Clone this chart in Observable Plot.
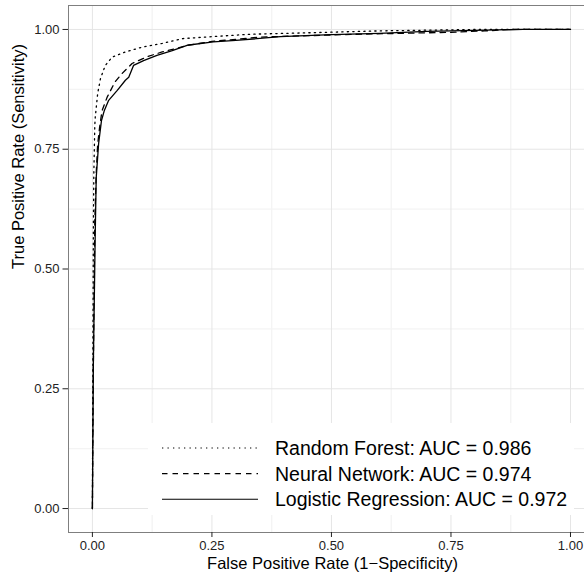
<!DOCTYPE html>
<html><head><meta charset="utf-8">
<script src="https://cdn.jsdelivr.net/npm/d3@7"></script>
<script src="https://cdn.jsdelivr.net/npm/@observablehq/plot@0.6"></script>
<style>
body{margin:0;background:#fff;font-family:"Liberation Sans",Arial,sans-serif;}
#wrap{position:relative;width:584px;height:573px;overflow:hidden;}
#legend{position:absolute;left:148px;top:423px;}
</style></head><body><div id="wrap"><div id="legend"></div></div>
<script>
// ---- data ----
const models = ["Random Forest", "Neural Network", "Logistic Regression"];
const aucs = [0.986, 0.974, 0.972];

const rfFpr = [0, 0.001, 0.002, 0.003, 0.005, 0.006, 0.011, 0.017, 0.027, 0.041, 0.069, 0.104, 0.146, 0.19, 0.25, 0.33, 0.45, 0.6, 0.8, 1];
const rfTpr = [0, 0.30, 0.58, 0.70, 0.80, 0.817, 0.866, 0.898, 0.925, 0.942, 0.953, 0.963, 0.971, 0.981, 0.985, 0.990, 0.993, 0.997, 1.0, 1];

const nnFpr = [0, 0.002, 0.005, 0.008, 0.011, 0.015, 0.020, 0.031, 0.047, 0.062, 0.083, 0.114, 0.146, 0.174, 0.20, 0.25, 0.35, 0.45, 0.55, 0.65, 0.75, 0.82, 0.88, 1];
const nnTpr = [0, 0.30, 0.60, 0.70, 0.76, 0.795, 0.83, 0.859, 0.89, 0.908, 0.929, 0.943, 0.953, 0.960, 0.967, 0.975, 0.984, 0.987, 0.990, 0.992, 0.994, 0.997, 1.0, 1];

const lrFpr = [0, 0.002, 0.006, 0.008, 0.013, 0.019, 0.025, 0.034, 0.052, 0.069, 0.076, 0.086, 0.107, 0.135, 0.167, 0.198, 0.253, 0.30, 0.393, 0.50, 0.60, 0.70, 0.80, 0.90, 1];
const lrTpr = [0, 0.30, 0.58, 0.691, 0.762, 0.81, 0.831, 0.852, 0.873, 0.894, 0.90, 0.925, 0.935, 0.946, 0.956, 0.967, 0.974, 0.977, 0.985, 0.989, 0.992, 0.996, 0.998, 1.0, 1];

const majorTicks = [0, 0.25, 0.5, 0.75, 1];
const minorTicks = [0.125, 0.375, 0.625, 0.875];

// ---- build ----
const fprs = [rfFpr, nnFpr, lrFpr];
const tprs = [rfTpr, nnTpr, lrTpr];
const dashOf = {"Random Forest": "1.3,4.2", "Neural Network": "5.5,5", "Logistic Regression": null};
const rows = [];
models.forEach((m, i) => fprs[i].forEach((f, j) => rows.push({model: m, fpr: f, tpr: tprs[i][j]})));

const font = '"Liberation Sans", Arial, sans-serif';
const fmt = d3.format(".2f");

const lineMarks = models.map(m => Plot.line(rows.filter(r => r.model === m), {
  x: "fpr", y: "tpr", stroke: "black", strokeWidth: 1.3,
  strokeDasharray: dashOf[m] || undefined, strokeLinejoin: "round", curve: "linear"
}));

const chart = Plot.plot({
  width: 584, height: 573,
  marginLeft: 68, marginRight: 0, marginTop: 5, marginBottom: 41,
  x: {domain: [-0.05, 1.0293]},
  y: {domain: [-0.05, 1.05]},
  style: {fontFamily: font, background: "white", color: "#222", overflow: "visible"},
  marks: [
    Plot.ruleX(minorTicks, {stroke: "#f4f4f4", strokeWidth: 1.4}),
    Plot.ruleY(minorTicks, {stroke: "#f4f4f4", strokeWidth: 1.4}),
    Plot.ruleX(majorTicks, {stroke: "#e5e5e5", strokeWidth: 1}),
    Plot.ruleY(majorTicks, {stroke: "#e5e5e5", strokeWidth: 1}),
    Plot.ruleX([-0.05], {stroke: "#7f7f7f", strokeWidth: 1}),
    Plot.ruleY([1.05], {stroke: "#7f7f7f", strokeWidth: 1}),
    Plot.ruleY([-0.05], {stroke: "#7f7f7f", strokeWidth: 1}),
    ...lineMarks,
    Plot.axisX({ticks: majorTicks, tickFormat: fmt, tickSize: 5, tickPadding: 3, fontSize: 13, label: null}),
    Plot.axisY({ticks: majorTicks, tickFormat: fmt, tickSize: 5.5, tickPadding: 3.5, fontSize: 13, label: null}),
    Plot.text(["False Positive Rate (1\u2212Specificity)"], {frameAnchor: "bottom", dx: 6, dy: 36, fontSize: 16.5, fill: "black"}),
    Plot.text(["True Positive Rate (Sensitivity)"], {frameAnchor: "left", rotate: -90, dx: -49.5, fontSize: 16.5, fill: "black"})
  ]
});
document.getElementById("wrap").prepend(chart);

// ---- legend (inside panel, bottom right) ----
const lg = d3.select("#legend").append("svg").attr("width", 426).attr("height", 92)
  .style("display", "block");
lg.append("rect").attr("width", 426).attr("height", 92).attr("fill", "white");
const rowY = i => 25 + i * 25.6;
models.forEach((m, i) => {
  const g = lg.append("g").attr("transform", `translate(0,${rowY(i)})`);
  g.append("line").attr("x1", 14).attr("x2", 110).attr("y1", 0).attr("y2", 0)
    .attr("stroke", "black").attr("stroke-width", 1.1)
    .attr("stroke-dasharray", dashOf[m]);
  g.append("text").attr("x", 127).attr("y", 0).attr("dy", "0.36em")
    .attr("font-family", font).attr("font-size", 19.5).attr("fill", "black")
    .text(`${m}: AUC = ${aucs[i].toFixed(3)}`);
});
</script></body></html>
